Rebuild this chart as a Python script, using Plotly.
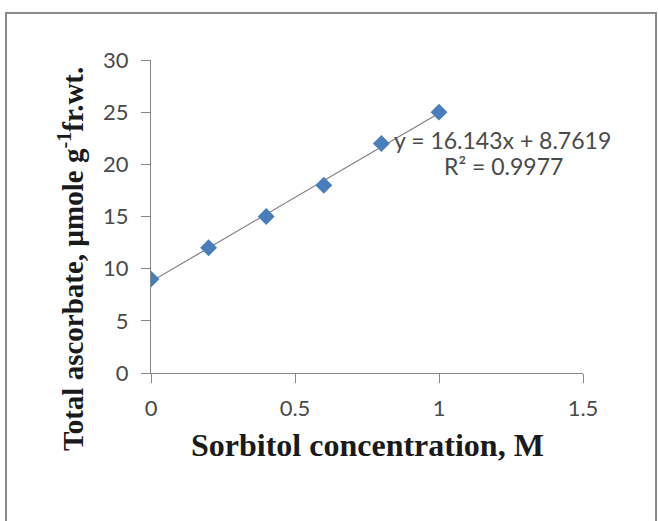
import plotly.graph_objects as go
import numpy as np

# Sorbitol treatment levels (M) and measured total ascorbate
sorbitol_m = [0, 0.2, 0.4, 0.6, 0.8, 1.0]
ascorbate = [9, 12, 15, 18, 22, 25]

x_ticks = [0, 0.5, 1, 1.5]
x_tick_labels = ["0", "0.5", "1", "1.5"]
y_ticks = [0, 5, 10, 15, 20, 25, 30]
y_tick_labels = ["0", "5", "10", "15", "20", "25", "30"]

# Least-squares linear trend
slope, intercept = np.polyfit(sorbitol_m, ascorbate, 1)
pred = np.polyval([slope, intercept], sorbitol_m)
ss_res = np.sum((np.array(ascorbate) - pred) ** 2)
ss_tot = np.sum((np.array(ascorbate) - np.mean(ascorbate)) ** 2)
r2 = 1 - ss_res / ss_tot
trend_x = [min(sorbitol_m), max(sorbitol_m)]
trend_y = [slope * v + intercept for v in trend_x]

tick_font = dict(family="Lato, Open Sans, sans-serif", size=22, color="#4a4a4a")
eq_font = dict(family="Lato, Open Sans, sans-serif", size=23, color="#4a4a4a")
title_font_family = "Liberation Serif, Times New Roman, serif"

fig = go.Figure()
fig.add_trace(go.Scatter(
    x=trend_x, y=trend_y, mode="lines",
    line=dict(color="#7f7f7f", width=1.2),
    hoverinfo="skip", showlegend=False,
))
fig.add_trace(go.Scatter(
    x=sorbitol_m, y=ascorbate, mode="markers",
    marker=dict(symbol="diamond", size=13, color="#4a7ebb",
                line=dict(width=0)),
    showlegend=False,
))

axis_common = dict(
    showgrid=False, zeroline=False, showline=True,
    linecolor="#868686", linewidth=1,
    ticks="outside", ticklen=9, tickcolor="#868686",
    tickfont=tick_font,
)

fig.update_layout(
    width=658, height=521,
    margin=dict(l=151, r=75, t=60, b=148),
    paper_bgcolor="white", plot_bgcolor="white",
    xaxis=dict(range=[0, 1.5], tickvals=x_ticks, ticktext=x_tick_labels,
               ticklabelstandoff=7, **axis_common),
    yaxis=dict(range=[0, 30], tickvals=y_ticks, ticktext=y_tick_labels,
               ticklabelstandoff=8, **axis_common),
    shapes=[dict(
        type="rect", xref="paper", yref="paper",
        x0=(6 - 151) / 432, x1=(656 - 151) / 432,
        y0=(373 - 540) / 313, y1=(373 - 13) / 313,
        line=dict(color="#8a8a8a", width=2), fillcolor="rgba(0,0,0,0)",
        layer="below",
    )],
    annotations=[
        dict(
            text="<b>Sorbitol concentration, M</b>",
            xref="paper", yref="paper", x=(367 - 151) / 432,
            y=(373 - 445) / 313,
            showarrow=False, xanchor="center", yanchor="middle",
            font=dict(family=title_font_family, size=32, color="#1a1a1a"),
        ),
        dict(
            text="<b>Total ascorbate, µmole g<sup>-1</sup>fr.wt.</b>",
            xref="paper", yref="paper", x=(71 - 151) / 432,
            y=(373 - 259) / 313, textangle=-90,
            showarrow=False, xanchor="center", yanchor="middle",
            font=dict(family=title_font_family, size=29, color="#1a1a1a"),
        ),
        dict(
            text=f"y = {slope:.3f}x + {intercept:.4f}",
            xref="paper", yref="paper", x=(502 - 151) / 432,
            y=(373 - 140) / 313, showarrow=False,
            xanchor="center", yanchor="middle", font=eq_font,
        ),
        dict(
            text=f"R² = {r2:.4f}",
            xref="paper", yref="paper", x=(503 - 151) / 432,
            y=(373 - 166) / 313, showarrow=False,
            xanchor="center", yanchor="middle", font=eq_font,
        ),
    ],
)

fig.write_html("out.html")
